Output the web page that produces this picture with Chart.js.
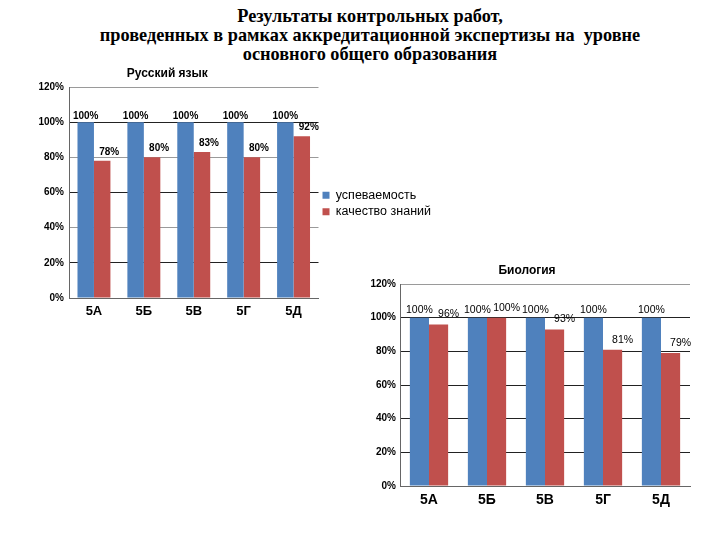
<!DOCTYPE html>
<html>
<head>
<meta charset="utf-8">
<script src="https://cdn.jsdelivr.net/npm/chart.js@4"></script>
<style>
  body { margin: 0; background: #fff; width: 720px; height: 540px; position: relative; overflow: hidden; }
  #title {
    position: absolute; left: 0; top: 7px; width: 740px; text-align: center;
    font-family: "Liberation Serif", "Times New Roman", serif; font-weight: bold;
    font-size: 18.3px; line-height: 19px; color: #000;
  }
  canvas { position: absolute; }
  #rus { left: 0; top: 60px; }
  #bio { left: 340px; top: 250px; }
</style>
</head>
<body>
<div id="title">Результаты контрольных работ,<br>проведенных в рамках аккредитационной экспертизы на&nbsp; уровне<br>основного общего образования</div>
<canvas id="rus" width="480" height="265"></canvas>
<canvas id="bio" width="380" height="270"></canvas>
<script>
// data
const classes = ['5А', '5Б', '5В', '5Г', '5Д'];
const rusUspev = [100, 100, 100, 100, 100];
const rusKach = [78, 80, 83, 80, 92];
const bioUspev = [100, 100, 100, 100, 100];
const bioKach = [96, 100, 93, 81, 79];
const seriesNames = ['успеваемость', 'качество знаний'];

const BLUE = '#4F81BD';
const RED = '#C0504D';
const FONT = 'Liberation Sans, Arial, sans-serif';

// values over the bars
const barLabels = {
  id: 'barLabels',
  afterDatasetsDraw(chart, args, opts) {
    const ctx = chart.ctx;
    ctx.save();
    ctx.font = opts.font;
    ctx.fillStyle = '#000';
    ctx.textAlign = 'center';
    ctx.textBaseline = 'middle';
    chart.data.datasets.forEach((ds, i) => {
      const meta = chart.getDatasetMeta(i);
      const off = opts.offsets[i];
      meta.data.forEach((bar, j) => {
        ctx.fillText(ds.data[j] + '%', bar.x + off[0], bar.y - off[1]);
      });
    });
    ctx.restore();
  }
};

// chart heading, placed over the plot area
const panelTitle = {
  id: 'panelTitle',
  afterDraw(chart, args, opts) {
    const { ctx, chartArea } = chart;
    ctx.save();
    ctx.font = opts.font;
    ctx.fillStyle = '#000';
    ctx.textAlign = 'center';
    ctx.textBaseline = 'middle';
    ctx.fillText(opts.text, chartArea.left + chartArea.width * opts.at, chartArea.top - opts.gap);
    ctx.restore();
  }
};

function makeChart(id, title, blue, red, cfg) {
  return new Chart(document.getElementById(id), {
    type: 'bar',
    data: {
      labels: classes,
      datasets: [
        { label: seriesNames[0], data: blue, backgroundColor: BLUE, borderWidth: 0 },
        { label: seriesNames[1], data: red, backgroundColor: RED, borderWidth: 0 }
      ]
    },
    options: {
      responsive: false,
      animation: false,
      categoryPercentage: 0.66,
      barPercentage: 1.0,
      layout: { padding: cfg.padding },
      plugins: {
        legend: cfg.legend,
        tooltip: { enabled: false },
        barLabels: { font: cfg.labelFont, offsets: cfg.offsets },
        panelTitle: { text: title, font: 'bold 12px ' + FONT, at: cfg.titleAt, gap: 13 }
      },
      scales: {
        x: {
          grid: { display: false, drawTicks: false },
          border: { color: '#666' },
          ticks: { color: '#000', padding: 6, font: { family: FONT, weight: 'bold', size: cfg.xSize } },
          afterFit: (s) => { s.height = cfg.xHeight; }
        },
        y: {
          min: 0, max: 120,
          grid: { drawTicks: false, color: cfg.gridColor, lineWidth: 1 },
          border: { color: '#666' },
          ticks: {
            stepSize: 20, color: '#000', padding: cfg.yPad,
            font: { family: FONT, weight: 'bold', size: 10 },
            callback: (v) => v + '%'
          },
          afterFit: (s) => { s.width = cfg.yWidth; }
        }
      }
    },
    plugins: [barLabels, panelTitle]
  });
}

makeChart('rus', 'Русский язык', rusUspev, rusKach, {
  padding: { left: 29, top: 27, right: 39, bottom: 5 },
  legend: {
    display: true, position: 'right', align: 'center', maxWidth: 150,
    labels: { boxWidth: 7, boxHeight: 7, padding: 4, color: '#000', font: { family: FONT, size: 12.5 } }
  },
  labelFont: 'bold 10px ' + FONT,
  offsets: [[0, 6], [7, 9]],
  titleAt: 0.394,
  xSize: 13, xHeight: 22, yWidth: 40, yPad: 5,
  gridColor: (c) => (c.tick && c.tick.value % 40 === 0 && c.tick.value !== 0 ? '#9a9a9a' : '#222')
});

makeChart('bio', 'Биология', bioUspev, bioKach, {
  padding: { left: 24, top: 34, right: 30, bottom: 10 },
  legend: { display: false },
  labelFont: '10.5px ' + FONT,
  offsets: [[0, 8], [10, 10]],
  titleAt: 0.438,
  xSize: 14, xHeight: 24, yWidth: 36, yPad: 4,
  gridColor: (c) => (c.tick && c.tick.value === 120 ? '#9a9a9a' : '#222')
});
</script>
</body>
</html>
